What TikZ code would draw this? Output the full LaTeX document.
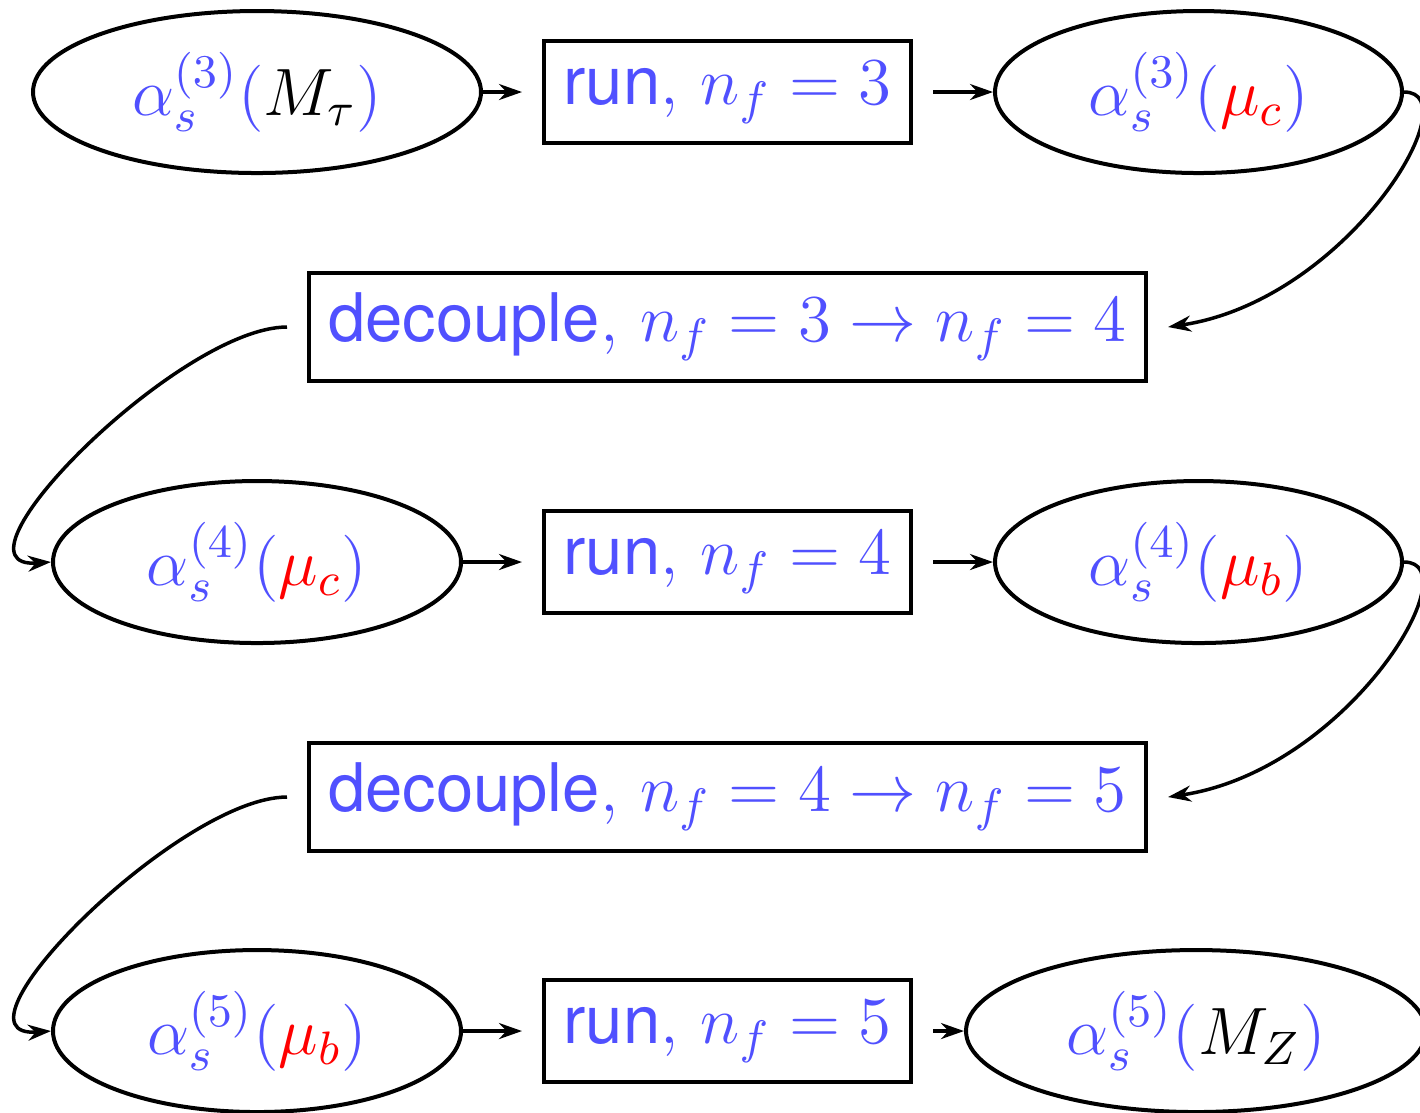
\RequirePackage{fix-cm}
\documentclass[tikz,border=0pt]{standalone}
\usepackage{fontspec}
\setsansfont{TeX Gyre Heros}
\usetikzlibrary{shapes.geometric,arrows.meta}
\definecolor{lblue}{RGB}{80,80,255}
\begin{document}
\begin{tikzpicture}[x=0.2pt,y=-0.2pt,
  font=\fontsize{13.4}{16}\selectfont,
  ell/.style={ellipse, draw=black, line width=0.8pt, inner sep=0pt, text=lblue, minimum height=32.4pt},
  rbox/.style={rectangle, draw=black, line width=0.8pt, inner sep=0pt, outer sep=4.4pt, text=lblue, minimum width=73.4pt, minimum height=20.4pt},
  dbox/.style={rectangle, draw=black, line width=0.8pt, inner sep=0pt, outer sep=4.4pt, text=lblue, minimum width=167.4pt, minimum height=21.6pt},
  arr/.style={-{Stealth[length=4.6pt,width=3.2pt]}, line width=0.7pt}]
\useasboundingbox (0,0) rectangle (1420,1112);
% row 1
\node[ell, minimum width=89.6pt] (e1) at (257,92) {$\displaystyle\alpha_s^{(3)}(\textcolor{black}{M_\tau})$};
\node[rbox] (r1) at (727.5,92) {\textsf{run}, $n_f=3$};
\node[ell, minimum width=81.4pt] (e2) at (1198.5,92) {$\displaystyle\alpha_s^{(3)}(\textcolor{red}{\mu_c})$};
% row 2
\node[dbox] (d1) at (727.5,327) {\textsf{decouple}, $n_f=3\rightarrow n_f=4$};
% row 3
\node[ell, minimum width=81.6pt] (e3) at (257,562) {$\displaystyle\alpha_s^{(4)}(\textcolor{red}{\mu_c})$};
\node[rbox] (r2) at (727.5,562) {\textsf{run}, $n_f=4$};
\node[ell, minimum width=81.4pt] (e4) at (1198.5,562) {$\displaystyle\alpha_s^{(4)}(\textcolor{red}{\mu_b})$};
% row 4
\node[dbox] (d2) at (727.5,797) {\textsf{decouple}, $n_f=4\rightarrow n_f=5$};
% row 5
\node[ell, minimum width=81.6pt] (e5) at (257,1031) {$\displaystyle\alpha_s^{(5)}(\textcolor{red}{\mu_b})$};
\node[rbox] (r3) at (727.5,1031) {\textsf{run}, $n_f=5$};
\node[ell, minimum width=92pt] (e6) at (1196,1031) {$\displaystyle\alpha_s^{(5)}(\textcolor{black}{M_Z})$};
% connectors
\draw[arr] (e1.east) -- (r1.west);
\draw[arr] (r1.east) -- (e2.west);
\draw[arr] (e2.east) .. controls +(68,0) and +(180,-27) .. (d1.east);
\draw[arr] (d1.west) .. controls +(-108,0) and +(-113,8) .. (e3.west);
\draw[arr] (e3.east) -- (r2.west);
\draw[arr] (r2.east) -- (e4.west);
\draw[arr] (e4.east) .. controls +(68,0) and +(180,-27) .. (d2.east);
\draw[arr] (d2.west) .. controls +(-108,0) and +(-113,8) .. (e5.west);
\draw[arr] (e5.east) -- (r3.west);
\draw[arr] (r3.east) -- (e6.west);
\end{tikzpicture}
\end{document}
